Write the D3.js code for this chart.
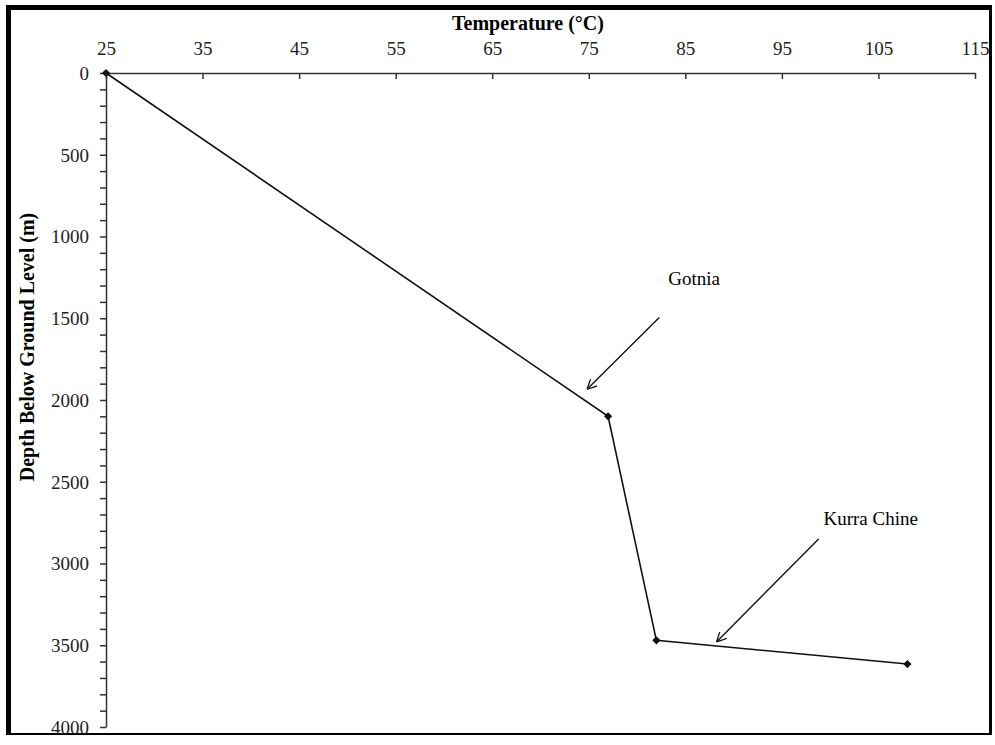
<!DOCTYPE html>
<html>
<head>
<meta charset="utf-8">
<script src="https://cdn.jsdelivr.net/npm/d3@7"></script>
<style>
  body { margin: 0; background: #fff; }
  text { font-family: "Liberation Serif", "Times New Roman", serif; }
</style>
</head>
<body>
<svg></svg>
<script>
var w = 995, h = 745;

// data
var temps = [25, 77, 82, 108];
var depths = [0, 2100, 3470, 3615];
var xTicks = [25, 35, 45, 55, 65, 75, 85, 95, 105, 115];
var yTicks = [0, 500, 1000, 1500, 2000, 2500, 3000, 3500, 4000];
var labels = ["Gotnia", "Kurra Chine"];
// arrow start/end as [temp, depth]
var arrowFrom = [[82.3, 1495], [98.8, 2850]];
var arrowTo = [[74.9, 1930], [88.3, 3475]];
var labelPos = [[85.9, 1297], [104.2, 2765]];

var svg = d3.select("svg")
    .attr("width", w)
    .attr("height", h);

svg.append("defs").append("marker")
    .attr("id", "arrowhead")
    .attr("viewBox", "0 -5 10 10")
    .attr("refX", 9)
    .attr("refY", 0)
    .attr("orient", "auto")
    .attr("markerWidth", 10)
    .attr("markerHeight", 10)
    .attr("markerUnits", "userSpaceOnUse")
    .append("path")
    .attr("d", "M 0,-5 L 10,0 L 0,5")
    .attr("fill", "none")
    .attr("stroke", "#111")
    .attr("stroke-width", 1.3);

// frame
svg.append("rect")
    .attr("x", 9).attr("y", 7)
    .attr("width", 982).attr("height", 727)
    .attr("fill", "none").attr("stroke", "#000").attr("stroke-width", 2);
svg.append("rect").attr("x", 6).attr("y", 5).attr("width", 5).attr("height", 730).attr("fill", "#000");
svg.append("rect").attr("x", 6).attr("y", 5).attr("width", 986).attr("height", 5).attr("fill", "#000");
svg.append("rect").attr("x", 989).attr("y", 5).attr("width", 3).attr("height", 730).attr("fill", "#000");

var x = d3.scaleLinear().domain([25, 115]).range([106, 975]);
var y = d3.scaleLinear().domain([0, 4000]).range([73, 727]);

// x axis on top, ticks pointing down
var xAxis = svg.append("g")
    .attr("transform", "translate(0," + y(0) + ")")
    .call(d3.axisBottom(x).tickValues(xTicks).tickSize(6).tickSizeOuter(0).tickFormat(d3.format("d")));
xAxis.selectAll("text").remove();
xAxis.selectAll(".tick").append("text")
    .attr("y", -18)
    .attr("text-anchor", "middle")
    .attr("fill", "#222")
    .style("font-size", "19px")
    .text(d => d);

// y axis
var yAxis = svg.append("g")
    .attr("transform", "translate(" + x(25) + ",0)")
    .call(d3.axisLeft(y).tickValues(d3.range(0, 4001, 100)).tickSize(6).tickSizeOuter(0).tickFormat(""));
yAxis.selectAll(".tick")
    .filter(d => yTicks.indexOf(d) >= 0)
    .append("text")
    .attr("x", -17)
    .attr("dy", "0.34em")
    .attr("text-anchor", "end")
    .attr("fill", "#222")
    .style("font-size", "19px")
    .text(d => d);

svg.selectAll(".domain, .tick line")
    .attr("stroke", "#333")
    .attr("stroke-width", 1.5);

// titles
svg.append("text")
    .attr("x", 528).attr("y", 30)
    .attr("text-anchor", "middle")
    .style("font-size", "20px").style("font-weight", "bold")
    .text("Temperature (°C)");
svg.append("text")
    .attr("transform", "translate(34,347) rotate(-90)")
    .attr("text-anchor", "middle")
    .style("font-size", "20px").style("font-weight", "bold")
    .text("Depth Below Ground Level (m)");

// line
var pts = temps.map((t, i) => ({ t: t, d: depths[i] }));
svg.append("path")
    .datum(pts)
    .attr("d", d3.line().x(d => x(d.t)).y(d => y(d.d)))
    .attr("fill", "none")
    .attr("stroke", "#111")
    .attr("stroke-width", 1.6);

// diamond markers (rotated squares)
svg.selectAll(".pt")
    .data(pts)
    .enter().append("path")
    .attr("class", "pt")
    .attr("transform", d => "translate(" + x(d.t) + "," + y(d.d) + ") rotate(45)")
    .attr("d", d3.symbol().type(d3.symbolSquare).size(34))
    .attr("fill", "#111");

// annotations
labels.forEach((lab, i) => {
    svg.append("line")
        .attr("x1", x(arrowFrom[i][0])).attr("y1", y(arrowFrom[i][1]))
        .attr("x2", x(arrowTo[i][0])).attr("y2", y(arrowTo[i][1]))
        .attr("stroke", "#111").attr("stroke-width", 1.4)
        .attr("marker-end", "url(#arrowhead)");
    svg.append("text")
        .attr("x", x(labelPos[i][0])).attr("y", y(labelPos[i][1]))
        .attr("text-anchor", "middle")
        .style("font-size", "19px")
        .text(lab);
});
</script>
</body>
</html>
